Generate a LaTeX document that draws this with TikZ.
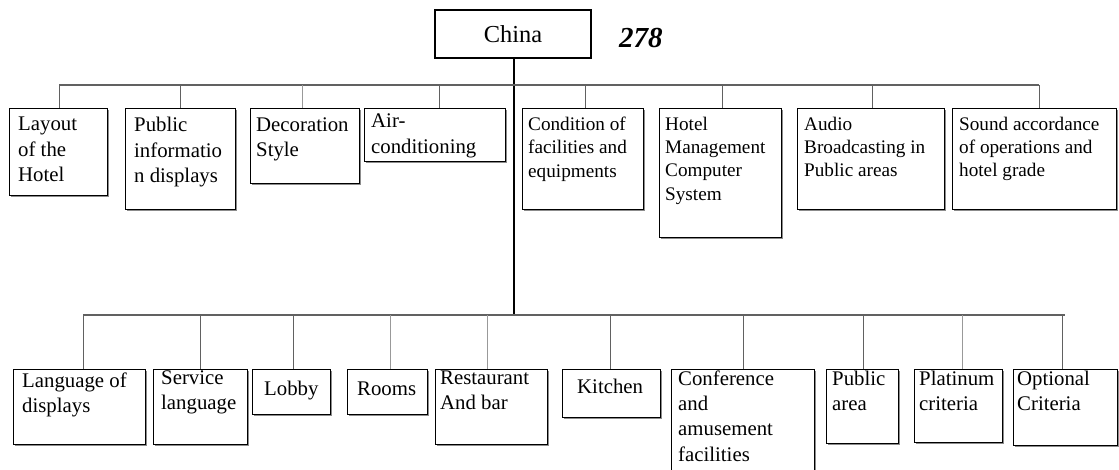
\documentclass[tikz,border=0pt]{standalone}
\usepackage{fontspec}
\setmainfont{Liberation Serif}
\usetikzlibrary{shadows}
\newcommand\hbx[5]{\node[box, minimum width={#4-#2}, minimum height={#5-#3}] (#1) at (#2,#3) {};}
\begin{document}
\begin{tikzpicture}[x=1pt,y=-1pt,
  box/.style={draw=black, line width=1.3pt, fill=white, inner sep=0pt, anchor=north west,
    drop shadow={shadow xshift=1.3pt, shadow yshift=-1.3pt, fill=black!45, opacity=1}},
  txtL/.style={anchor=north west, inner sep=0pt, align=left,
    font=\fontsize{20.8}{25.5}\selectfont, execute at begin node=\strut},
  txtR/.style={anchor=north west, inner sep=0pt, align=left,
    font=\fontsize{19.2}{23.3}\selectfont, execute at begin node=\strut},
  txtB/.style={anchor=north west, inner sep=0pt, align=left,
    font=\fontsize{20.8}{25}\selectfont, execute at begin node=\strut},
  conn/.style={draw=black!62, line width=1.3pt},
  connlight/.style={draw=black!40, line width=1.3pt},
  trunk/.style={draw=black, line width=1.3pt}]
\useasboundingbox (0,0) rectangle (1119,469);

% root
\node[box, anchor=center, minimum width=156pt, minimum height=48pt,
  font=\fontsize{24.4}{28}\selectfont] (china) at (513,34) {China};
\node[anchor=base west, inner sep=0pt, font=\fontsize{29}{32}\selectfont\bfseries\itshape]
  (pageno) at (619,47) {278};

% bus lines
\coordinate (ubL) at (59,85);
\coordinate (ubR) at (1039,85);
\coordinate (lbL) at (83,315);
\coordinate (lbR) at (1065,315);
\coordinate (lbA) at (293,315);
\coordinate (lbB) at (961,315);
\coordinate (lbM) at (514,315);

% upper row boxes
\hbx{b1}{9}{108}{107}{195}
\hbx{b2}{125}{108}{235}{209}
\hbx{b3}{250}{108}{359}{183}
\hbx{b4}{364}{108}{505}{161}
\hbx{b5}{522}{108}{643}{209}
\hbx{b6}{659}{108}{781}{237}
\hbx{b7}{797}{108}{944}{209}
\hbx{b8}{952}{108}{1116}{209}

% lower row boxes
\hbx{c1}{13}{369}{145}{444}
\hbx{c2}{153}{369}{247}{444}
\hbx{c3}{252}{369}{330}{414}
\hbx{c4}{347}{369}{427}{414}
\hbx{c5}{435}{369}{547}{444}
\hbx{c6}{562}{369}{660}{417}
\hbx{c7}{671}{369}{814}{480}
\hbx{c8}{826}{369}{898}{443}
\hbx{c9}{914}{369}{1002}{442}
\hbx{c10}{1013}{369}{1117}{445}

% connectors
\draw[trunk] (china.south) ++(1,0) -- (lbM);
\draw[conn] (ubL) -- (ubR);
\draw[conn] (lbL) -- (lbR);
\draw[conn, line width=2.3pt] (lbA) -- (lbB);
\foreach \n/\dx in {b1/1,b2/0,b4/4.5,b5/2.5,b6/2,b7/1.5,b8/4.5}
  \draw[conn] ([xshift=\dx pt]\n.north) -- ++(0,-23);
\draw[connlight] ([xshift=-2.5pt]b3.north) -- ++(0,-23);
\foreach \n/\dx in {c1/4,c2/0,c3/2,c6/-1,c7/0.5,c8/1,c10/-3.5}
  \draw[conn] ([xshift=\dx pt]\n.north) -- ++(0,-54);
\draw[connlight] ([xshift=3pt]c4.north) -- ++(0,-54);
\draw[connlight] ([xshift=-4pt]c5.north) -- ++(0,-54);
\draw[connlight] ([xshift=4pt]c9.north) -- ++(0,-54);

% upper row texts
\node[txtL] (t1) at (18,117.15) {Layout\\of the\\Hotel};
\node[txtL] (t2) at (134,117.15) {Public\\informatio\\n displays};
\node[txtL] (t3) at (256,117.15) {Decoration\\Style};
\begin{scope}
  \clip (364,108) rectangle (505,160.4);
  \node[txtL, font=\fontsize{20.8}{26}\selectfont] (t4) at (371,113.8) {Air-\\conditioning};
\end{scope}
\node[txtR] (t5) at (528,116.7) {Condition of\\facilities and\\equipments};
\node[txtR] (t6) at (665,116.7) {Hotel\\Management\\Computer\\System};
\node[txtR] (t7) at (804,116.7) {Audio\\Broadcasting in\\Public areas};
\node[txtR] (t8) at (959,116.7) {Sound accordance\\of operations and\\hotel grade};

% lower row texts
\node[txtB] (s1) at (22,372.5) {Language of\\displays};
\node[txtB] (s2) at (161,370.5) {Service\\language};
\node[txtB] (s3) at (264,377.5) {Lobby};
\node[txtB] (s4) at (357,377.5) {Rooms};
\node[txtB] (s5) at (440,370.5) {Restaurant\\And bar};
\node[txtB] (s6) at (577,375.5) {Kitchen};
\node[txtB, font=\fontsize{20.8}{25.3}\selectfont] (s7) at (678,370.5) {Conference\\and\\amusement\\facilities};
\node[txtB] (s8) at (832,370.5) {Public\\area};
\node[txtB] (s9) at (919,370.5) {Platinum\\criteria};
\node[txtB] (s10) at (1017,370.5) {Optional\\Criteria};
\end{tikzpicture}
\end{document}
